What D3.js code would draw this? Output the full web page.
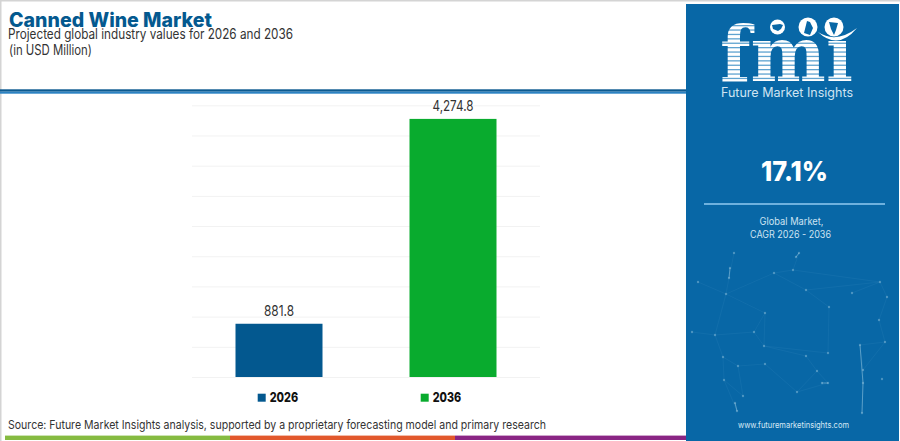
<!DOCTYPE html>
<html><head><meta charset="utf-8">
<script src="https://cdn.jsdelivr.net/npm/d3@7"></script>
<style>html,body{margin:0;padding:0;background:#fff}svg{display:block}text{font-family:Inter,"Noto Sans",sans-serif}</style>
</head><body><div id="c"></div>
<script>
const categories = ["2026", "2036"];
const values = [881.8, 4274.8];
const valueLabels = ["881.8", "4,274.8"];
const colors = ["#03588f", "#09ab2e"];
const yTicks = [0, 500, 1000, 1500, 2000, 2500, 3000, 3500, 4000, 4500];
const titleText = "Canned Wine Market";
const subtitleLines = ["Projected global industry values for 2026 and 2036", "(in USD Million)"];
const sourceText = "Source: Future Market Insights analysis, supported by a proprietary forecasting model and primary research";
const cagrText = "17.1%";
const cagrLabel = ["Global Market,", "CAGR 2026 - 2036"];
const brandName = "Future Market Insights";
const website = "www.futuremarketinsights.com";
// decorative network in the side panel (panel pixels, not data)
const netNodes = [[734,253],[730,268],[729,278],[698,282],[726,294],[774,273],[793,270],[799,253],[806,290],[852,293],[880,282],[887,297],[829,307],[765,313],[879,320],[754,332],[715,335],[692,332],[860,345],[885,342],[764,346],[828,353],[806,356],[723,357],[738,366],[765,364],[817,371],[863,370],[828,383],[882,379],[724,380],[743,396],[797,392],[735,403],[737,411],[862,413],[863,383],[796,257],[822,383]];
const netLinks = [[0,2],[2,4],[3,4],[4,16],[16,23],[23,30],[30,31],[31,24],[24,23],[16,15],[15,13],[13,4],[13,20],[20,21],[21,12],[12,8],[8,5],[5,6],[6,7],[5,4],[8,10],[10,11],[9,10],[11,14],[14,19],[19,18],[18,27],[27,36],[36,35],[22,20],[22,26],[26,28],[28,32],[32,26],[25,32],[24,25],[17,16],[33,34],[15,20],[30,34],[6,10],[27,19]];
const netBright = [[33,34],[1,2],[7,37],[18,36],[36,35],[38,28]];

const W = 900, H = 441;
const svg = d3.select("#c").append("svg").attr("width", W).attr("height", H);
svg.append("rect").attr("width", W).attr("height", H).attr("fill", "#fff");
svg.append("rect").attr("width", W).attr("height", 1.5).attr("fill", "#d4d4d4");
svg.append("rect").attr("width", 1.5).attr("height", H).attr("fill", "#d4d4d4");

function label(x, y, str, size, weight, fill, len, anchor) {
  const t = svg.append("text").attr("x", x).attr("y", y).text(str)
    .attr("font-size", size).attr("font-weight", weight).attr("fill", fill)
    .attr("text-anchor", anchor || "start");
  if (len) t.attr("textLength", len).attr("lengthAdjust", "spacingAndGlyphs");
  return t;
}

// header
label(9, 27.3, titleText, 19.5, 800, "#04598f", 203);
label(8, 38.6, subtitleLines[0], 14, 400, "#333", 285);
label(9, 55, subtitleLines[1], 14, 400, "#333", 83);
svg.append("rect").attr("x", 0).attr("y", 89.3).attr("width", 686).attr("height", 2.4).attr("fill", "#0d5a90");
svg.append("rect").attr("x", 0).attr("y", 91.7).attr("width", 686).attr("height", 2).attr("fill", "#2b82c2");

// chart
const x = d3.scaleBand().domain(categories).range([192, 540]).paddingInner(0.5).paddingOuter(0.25);
const y = d3.scaleLinear().domain([0, 4500]).range([377, 105.3]);
svg.append("g").call(d3.axisLeft(y).tickValues(yTicks).tickSize(-348).tickFormat(""))
  .attr("transform", "translate(192,0)")
  .call(g => g.select(".domain").remove())
  .call(g => g.selectAll("line").attr("stroke", "#f2f2f2").attr("stroke-width", 1));
svg.selectAll(".bar").data(categories).join("rect").attr("class", "bar")
  .attr("x", d => x(d)).attr("width", x.bandwidth())
  .attr("y", (d, i) => y(values[i])).attr("height", (d, i) => y(0) - y(values[i]))
  .attr("fill", (d, i) => colors[i]);
const valWidths = [30, 41];
svg.selectAll(".val").data(categories).join("text").attr("class", "val")
  .attr("x", d => x(d) + x.bandwidth() / 2).attr("y", (d, i) => y(values[i]) - 8)
  .attr("text-anchor", "middle").attr("font-size", 14.5).attr("fill", "#333")
  .attr("textLength", (d, i) => valWidths[i]).attr("lengthAdjust", "spacingAndGlyphs")
  .text((d, i) => valueLabels[i]);

// legend
categories.forEach((c, i) => {
  const lx = i === 0 ? 257.7 : 420.7;
  svg.append("rect").attr("x", lx).attr("y", 393.7).attr("width", 8).attr("height", 8).attr("fill", colors[i]);
  label(lx + 12, 401.6, c, 13.5, 800, "#111", 28.5);
});

// source + stripes
label(8, 429.4, sourceText, 12, 400, "#333", 538);
[[5, 230, "#86bb41"], [230, 455, "#e2582c"], [455, 686, "#8a2584"]].forEach(s =>
  svg.append("rect").attr("x", s[0]).attr("y", 435.6).attr("width", s[1] - s[0]).attr("height", 4.4).attr("fill", s[2]));

// side panel
svg.append("rect").attr("x", 686).attr("y", 4).attr("width", 213).attr("height", 437).attr("fill", "#0867a6");
const net = svg.append("g");
const link = (sel, data) => sel.data(data).join("line")
  .attr("x1", d => netNodes[d[0]][0]).attr("y1", d => netNodes[d[0]][1])
  .attr("x2", d => netNodes[d[1]][0]).attr("y2", d => netNodes[d[1]][1]);
link(net.append("g").selectAll("line"), netLinks)
  .attr("stroke", "#5fa6cf").attr("stroke-opacity", 0.16).attr("stroke-width", 0.7);
link(net.append("g").selectAll("line"), netBright)
  .attr("stroke", "#8cc0dc").attr("stroke-opacity", 0.6).attr("stroke-width", 1);
net.append("g").selectAll("circle").data(netNodes).join("circle")
  .attr("cx", d => d[0]).attr("cy", d => d[1]).attr("r", 1.2)
  .attr("fill", "#8cc0dc").attr("opacity", 0.5);

// logo
const defs = svg.append("defs");
const clip = defs.append("clipPath").attr("id", "logoClip");
clip.append("text").attr("x", 720).attr("y", 81).text("fmı")
  .attr("font-size", 76).attr("font-weight", 700).attr("textLength", 133).attr("lengthAdjust", "spacingAndGlyphs")
  .style("font-family", '"DejaVu Serif",serif');
const logo = svg.append("g").attr("clip-path", "url(#logoClip)");
logo.append("rect").attr("x", 715).attr("y", 15).attr("width", 140).attr("height", 70).attr("fill", "#fff");
d3.range(25, 84, 4.4).forEach(yy =>
  logo.append("rect").attr("x", 715).attr("y", yy).attr("width", 140).attr("height", 1.3).attr("fill", "#5fa3d0"));
[[777.5, 27, 7.5], [808, 27, 9.5], [834, 27, 9.5]].forEach(c => {
  svg.append("circle").attr("cx", c[0]).attr("cy", c[1]).attr("r", c[2]).attr("fill", "#fff");
});
svg.append("path").attr("d", "M772 25l8-1 3 1-2 4-3 2-5-2zM804 33l3-12 3 1 3 6-3 7zM829 22l9 1-2 7-2 5-3-6z").attr("fill", "#0867a6");
svg.append("path").attr("d", "M818 32Q836 44 857 28Q838 51 818 32Z").attr("fill", "#fff");
label(721, 96.6, brandName, 12.5, 400, "#cfe4f2", 132);

label(794.5, 181, cagrText, 27.5, 800, "#fff", 67, "middle");
svg.append("rect").attr("x", 704).attr("y", 203).attr("width", 181).attr("height", 2).attr("fill", "#6eb1de");
label(791.5, 225, cagrLabel[0], 10, 400, "#cde3f2", 64, "middle");
label(790.5, 238, cagrLabel[1], 10, 400, "#cde3f2", 81, "middle");
label(793.5, 428, website, 8.5, 400, "#d5e8f5", 111, "middle");
</script></body></html>
